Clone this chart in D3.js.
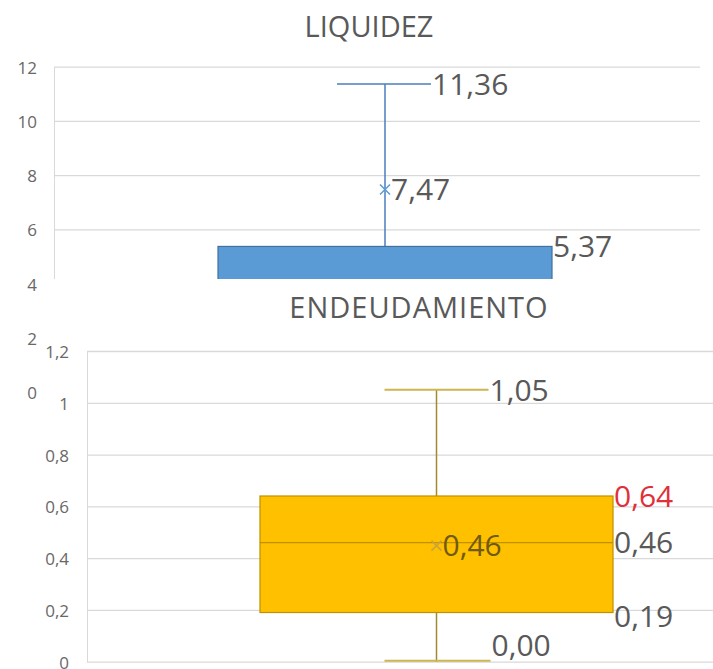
<!DOCTYPE html>
<html>
<head>
<meta charset="utf-8">
<script src="https://cdn.jsdelivr.net/npm/d3@7"></script>
<style>
  body { margin: 0; background: #fff; }
  text { font-family: "Open Sans", sans-serif; }
</style>
</head>
<body>
<svg id="chart"></svg>
<script>
var width = 713;
var height = 669;

// LIQUIDEZ: only the upper part is visible, the rest is covered by the second chart
var liqTicks = [0, 2, 4, 6, 8, 10, 12];
var liqMax = 11.36;
var liqMean = 7.47;
var liqQ3 = 5.37;

// ENDEUDAMIENTO
var endTicks = [0, 0.2, 0.4, 0.6, 0.8, 1, 1.2];
var endMax = 1.05;
var endQ3 = 0.64;
var endMedian = 0.46;
var endMean = 0.46;
var endQ1 = 0.19;
var endMin = 0.00;

var es = d3.formatLocale({decimal: ",", thousands: ".", grouping: [3], currency: ["", ""]});
var fmt2 = es.format(".2f");
var fmtTick = es.format(".1~f");

var gray = "#595959";
var grid = "#d9d9d9";

var svg = d3.select("#chart")
    .attr("width", width)
    .attr("height", height);

svg.append("rect").attr("width", width).attr("height", height).attr("fill", "#fff");

function axisGrid(g, y, ticks, w, pad) {
  g.call(d3.axisLeft(y).tickValues(ticks).tickSize(-w).tickSizeOuter(0)
      .tickPadding(pad).tickFormat(fmtTick));
  g.select(".domain").attr("stroke", grid);
  g.selectAll(".tick line").attr("stroke", grid).attr("stroke-width", 1.3);
  g.selectAll(".tick text")
      .attr("fill", "#686868")
      .style("font-size", "17px")
      .style("font-family", "'Open Sans', sans-serif")
      .attr("dy", "0.38em");
}

function cross(g, cx, cy, r, color) {
  g.append("path")
      .attr("d", "M" + (cx - r) + "," + (cy - r) + "L" + (cx + r) + "," + (cy + r) +
                 "M" + (cx - r) + "," + (cy + r) + "L" + (cx + r) + "," + (cy - r))
      .attr("stroke", color).attr("stroke-width", 1.5);
}

function label(g, x, y, txt, color) {
  g.append("text")
      .attr("x", x).attr("y", y)
      .attr("dy", "0.36em")
      .style("font-size", "30px")
      .attr("fill", color || gray)
      .text(txt);
}

// ---------- LIQUIDEZ ----------
var gTop = svg.append("g");
var yL = d3.scaleLinear().domain([0, 12]).range([392, 66.7]);
var xL = d3.scaleBand().domain(["LIQUIDEZ"]).range([54, 716]).paddingOuter(0.491);

gTop.append("text")
    .attr("x", 369).attr("y", 37)
    .attr("text-anchor", "middle")
    .style("font-size", "29px")
    .attr("fill", gray)
    .text("LIQUIDEZ");

gTop.append("g").attr("transform", "translate(54,0)")
    .call(axisGrid, yL, liqTicks, 646, 17);

var cL = xL("LIQUIDEZ") + xL.bandwidth() / 2;
var blue = "#5b9bd5";
var blueDark = "#41719c";

gTop.append("line")
    .attr("x1", cL).attr("x2", cL)
    .attr("y1", yL(liqMax)).attr("y2", yL(liqQ3))
    .attr("stroke", "#4a7ebb").attr("stroke-width", 1.5);
gTop.append("line")
    .attr("x1", cL - 48).attr("x2", cL + 46)
    .attr("y1", yL(liqMax)).attr("y2", yL(liqMax))
    .attr("stroke", "#4a7ebb").attr("stroke-width", 1.5);
gTop.append("rect")
    .attr("x", xL("LIQUIDEZ")).attr("width", xL.bandwidth())
    .attr("y", yL(liqQ3)).attr("height", yL(0) - yL(liqQ3))
    .attr("fill", blue).attr("stroke", blueDark).attr("stroke-width", 1.2);
cross(gTop, cL, yL(liqMean), 5, "#5b9bd5");

label(gTop, cL + 46 + 1, yL(liqMax), fmt2(liqMax));
label(gTop, cL + 6, yL(liqMean), fmt2(liqMean));
label(gTop, xL("LIQUIDEZ") + xL.bandwidth() + 1, yL(liqQ3), fmt2(liqQ3));

// ---------- ENDEUDAMIENTO ----------
var gBot = svg.append("g");
gBot.append("rect")
    .attr("x", 38).attr("y", 279)
    .attr("width", width - 38).attr("height", height - 279)
    .attr("fill", "#fff");

var yE = d3.scaleLinear().domain([0, 1.2]).range([661.7, 351]);
var xE = d3.scaleBand().domain(["ENDEUDAMIENTO"]).range([87, 786]).paddingOuter(0.49);

gBot.append("text")
    .attr("x", 419).attr("y", 318)
    .attr("text-anchor", "middle")
    .style("font-size", "29px")
    .style("letter-spacing", "1px")
    .attr("fill", gray)
    .text("ENDEUDAMIENTO");

gBot.append("g").attr("transform", "translate(87,0)")
    .call(axisGrid, yE, endTicks, 626, 18);

var x0 = xE("ENDEUDAMIENTO");
var bw = xE.bandwidth();
var cE = x0 + bw / 2;
var gold = "#ffc000";
var goldDark = "#bf9000";
var whisk = "#a08a30";
var cap = "#cdb553";

gBot.append("line")
    .attr("x1", cE).attr("x2", cE)
    .attr("y1", yE(endMax)).attr("y2", yE(endQ3))
    .attr("stroke", whisk).attr("stroke-width", 1.5);
gBot.append("line")
    .attr("x1", cE).attr("x2", cE)
    .attr("y1", yE(endQ1)).attr("y2", yE(endMin))
    .attr("stroke", whisk).attr("stroke-width", 1.5);
gBot.append("line")
    .attr("x1", cE - 52).attr("x2", cE + 52)
    .attr("y1", yE(endMax)).attr("y2", yE(endMax))
    .attr("stroke", cap).attr("stroke-width", 2);
gBot.append("line")
    .attr("x1", cE - 52).attr("x2", cE + 54)
    .attr("y1", yE(endMin) - 1).attr("y2", yE(endMin) - 1)
    .attr("stroke", cap).attr("stroke-width", 2);

gBot.append("rect")
    .attr("x", x0).attr("width", bw)
    .attr("y", yE(endQ3)).attr("height", yE(endQ1) - yE(endQ3))
    .attr("fill", gold).attr("stroke", goldDark).attr("stroke-width", 1.2);
gBot.append("line")
    .attr("x1", x0).attr("x2", x0 + bw)
    .attr("y1", yE(endMedian)).attr("y2", yE(endMedian))
    .attr("stroke", goldDark).attr("stroke-width", 1.3);
cross(gBot, cE, yE(endMean) + 3, 5, "#c9a43a");

label(gBot, cE + 53, yE(endMax), fmt2(endMax));
label(gBot, x0 + bw + 1, yE(endQ3), fmt2(endQ3), "#e0303a");
label(gBot, x0 + bw + 1, yE(endMedian), fmt2(endMedian));
label(gBot, cE + 6, yE(endMean) + 3, fmt2(endMean), "#705a10");
label(gBot, x0 + bw + 1, yE(endQ1) + 4, fmt2(endQ1));
label(gBot, cE + 55, yE(endMin) - 17, fmt2(endMin));
</script>
</body>
</html>
